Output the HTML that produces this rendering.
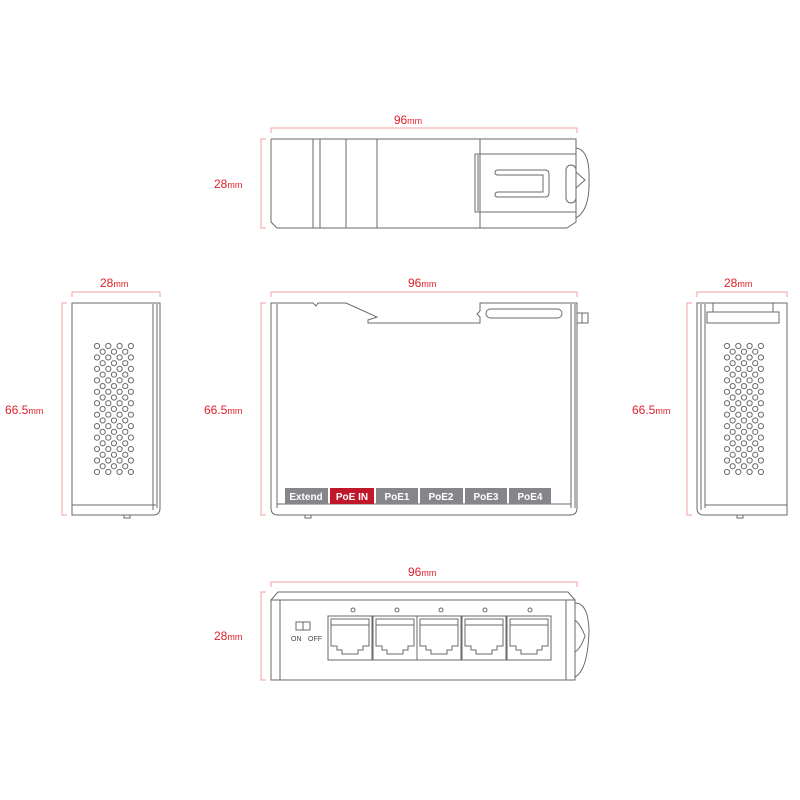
<!DOCTYPE html>
<html><head><meta charset="utf-8"><style>
html,body{margin:0;padding:0;background:#fff;}
svg{display:block;}
.d{stroke:#f2a0a0;stroke-width:1;fill:none;}
.l{stroke:#6a6a6a;stroke-width:1;fill:none;}
.t{fill:#e0202a;font-family:"Liberation Sans",sans-serif;font-size:12px;}
.s{font-size:9px;}
.tag{fill:#fff;font-family:"Liberation Sans",sans-serif;font-size:10px;font-weight:bold;text-anchor:middle;}
</style></head><body>
<svg id="sv" width="800" height="800" viewBox="0 0 800 800" xmlns="http://www.w3.org/2000/svg">
<defs>
<g id="port">
<rect x="0" y="0" width="44" height="44" class="l"/>
<path class="l" d="M3 3 V30 H9 V34 H14 V38 H30 V34 H35 V30 H41 V3 Z"/>
<line class="l" x1="3" y1="9" x2="41" y2="9"/>
</g>
</defs>

<!-- TOP VIEW -->
<path class="d" d="M271 133 V128 H577 V133"/>
<text class="t" x="408" y="124" text-anchor="middle">96<tspan class="s">mm</tspan></text>
<path class="d" d="M266 139 H261 V228 H266"/>
<text class="t" x="214" y="188">28<tspan class="s">mm</tspan></text>
<path class="l" d="M271 139 H576 V154 H575 M271 139 V222 L277 228 H567 L576 222 V212"/>
<line class="l" x1="313" y1="139" x2="313" y2="228"/>
<line class="l" x1="320" y1="139" x2="320" y2="228"/>
<line class="l" x1="346" y1="139" x2="346" y2="228"/>
<line class="l" x1="377" y1="139" x2="377" y2="228"/>
<line class="l" x1="480" y1="139" x2="480" y2="228"/>
<path class="l" d="M475 154 H576 V212 H475 Z"/>
<line class="l" x1="478" y1="155" x2="478" y2="211"/>
<path class="l" d="M576 148 Q590 150 589 180 Q590 210 576 218"/>
<path class="l" d="M498 170 H545 Q549 170 549 174 V193 Q549 197 545 197 H498 Q495 197 495 195 Q495 192 498 192 H543 V175 H498 Q495 175 495 172.5 Q495 170 498 170 Z"/>
<rect class="l" x="566" y="165" width="10" height="38" rx="5"/>
<path class="l" d="M576 172 L585 180 L576 188"/>

<!-- LEFT VIEW -->
<path class="d" d="M72 297 V292 H160 V297"/>
<text class="t" x="100" y="287">28<tspan class="s">mm</tspan></text>
<path class="d" d="M67 303 H62 V515 H67"/>
<text class="t" x="5" y="414">66.5<tspan class="s">mm</tspan></text>
<path class="l" d="M72 303 H160 V508 Q160 515 153 515 H72 Z"/>
<line class="l" x1="72" y1="505" x2="156" y2="505"/>
<line class="l" x1="153" y1="304" x2="153" y2="510"/>
<line class="l" x1="157" y1="304" x2="157" y2="508"/>
<rect class="l" x="124" y="515" width="6" height="3"/>
<g id="holesL"></g>

<!-- RIGHT VIEW -->
<path class="d" d="M697 297 V292 H787 V297"/>
<text class="t" x="724" y="287">28<tspan class="s">mm</tspan></text>
<path class="d" d="M692 303 H687 V515 H692"/>
<text class="t" x="632" y="414">66.5<tspan class="s">mm</tspan></text>
<path class="l" d="M697 303 H787 V515 H704 Q697 515 697 508 Z"/>
<line class="l" x1="701" y1="304" x2="701" y2="510"/>
<line class="l" x1="705" y1="304" x2="705" y2="508"/>
<line class="l" x1="705" y1="505" x2="787" y2="505"/>
<path class="l" d="M713 303 V312 H707 V323 H779 V312 H773 V303"/>
<line class="l" x1="713" y1="312" x2="773" y2="312"/>
<rect class="l" x="737" y="515" width="6" height="3"/>
<g id="holesR"></g>

<!-- FRONT VIEW -->
<path class="d" d="M271 297 V292 H577 V297"/>
<text class="t" x="408" y="287">96<tspan class="s">mm</tspan></text>
<path class="d" d="M266 303 H261 V515 H266"/>
<text class="t" x="204" y="414">66.5<tspan class="s">mm</tspan></text>
<path class="l" d="M271 303 V508 Q271 515 278 515 H570 Q577 515 577 508 V303 H480 V311 L477 314 L480 317 V323 H368 V320 L377 317 L346 303 H318 L316 306 L313 303 Z"/>
<line class="l" x1="277" y1="304" x2="277" y2="508"/>
<line class="l" x1="571" y1="304" x2="571" y2="508"/>
<line class="l" x1="575" y1="304" x2="575" y2="508"/>
<line class="l" x1="277" y1="504" x2="571" y2="504"/>
<rect class="l" x="486" y="309" width="76" height="9" rx="4.5"/>
<rect class="l" x="577" y="313" width="11" height="10"/>
<line class="l" x1="582" y1="313" x2="582" y2="323"/>
<rect class="l" x="305" y="515" width="6" height="3"/>
<rect x="285" y="488" width="43" height="16" fill="#86868a"/>
<rect x="330" y="488" width="44" height="16" fill="#c0182a"/>
<rect x="376" y="488" width="42" height="16" fill="#86868a"/>
<rect x="420" y="488" width="43" height="16" fill="#86868a"/>
<rect x="465" y="488" width="42" height="16" fill="#86868a"/>
<rect x="509" y="488" width="42" height="16" fill="#86868a"/>
<text class="tag" x="306" y="500">Extend</text>
<text class="tag" x="352" y="500">PoE IN</text>
<text class="tag" x="397" y="500">PoE1</text>
<text class="tag" x="441" y="500">PoE2</text>
<text class="tag" x="486" y="500">PoE3</text>
<text class="tag" x="530" y="500">PoE4</text>

<!-- BOTTOM VIEW -->
<path class="d" d="M271 587 V582 H577 V587"/>
<text class="t" x="408" y="576">96<tspan class="s">mm</tspan></text>
<path class="d" d="M266 592 H261 V680 H266"/>
<text class="t" x="214" y="640">28<tspan class="s">mm</tspan></text>
<path class="l" d="M271 680 V600 L278 592 H568 L575 600 V680 Z"/>
<line class="l" x1="271" y1="600" x2="575" y2="600"/>
<line class="l" x1="280" y1="600" x2="280" y2="680"/>
<line class="l" x1="566" y1="600" x2="566" y2="680"/>
<path class="l" d="M575 600 V680 M575 603 Q588 603 589 630 Q588 670 575 677"/>
<path class="l" d="M575 620 Q581 625 585 636 Q581 648 575 652"/>
<rect class="l" x="296" y="622" width="14" height="8"/>
<line class="l" x1="303" y1="622" x2="303" y2="630"/>
<text x="291" y="641" font-family="Liberation Sans,sans-serif" font-size="7" fill="#444">ON</text>
<text x="308" y="641" font-family="Liberation Sans,sans-serif" font-size="7" fill="#444">OFF</text>
<use href="#port" x="328" y="616"/>
<use href="#port" x="373" y="616"/>
<use href="#port" x="417" y="616"/>
<use href="#port" x="462" y="616"/>
<use href="#port" x="507" y="616"/>
<circle class="l" cx="353" cy="610" r="2"/>
<circle class="l" cx="397" cy="610" r="2"/>
<circle class="l" cx="441" cy="610" r="2"/>
<circle class="l" cx="485" cy="610" r="2"/>
<circle class="l" cx="530" cy="610" r="2"/>
</svg>
<script>
function holes(id,x0){
 var g=document.getElementById(id),s='';
 for(var r=0;r<12;r++){var y=346+r*11.45;
  for(var c=0;c<4;c++)s+='<circle class="l" cx="'+(x0+c*11.3)+'" cy="'+y+'" r="2.6"/>';
  if(r<11)for(var c=0;c<3;c++)s+='<circle class="l" cx="'+(x0+5.65+c*11.3)+'" cy="'+(y+5.72)+'" r="2.6"/>';}
 g.innerHTML=s;}
holes('holesL',97);holes('holesR',727);
</script>
</body></html>
